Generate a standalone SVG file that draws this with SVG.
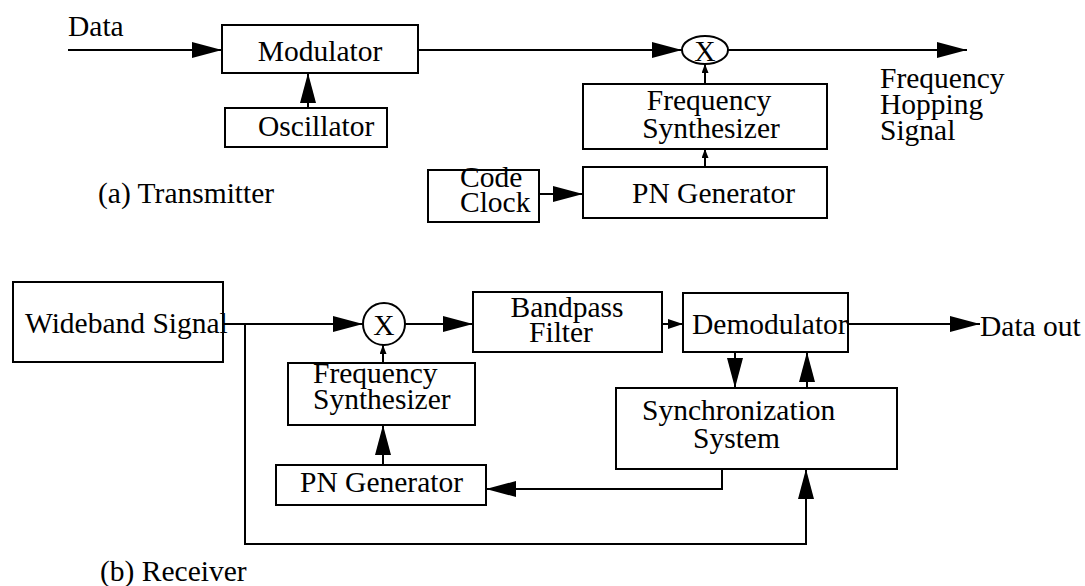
<svg xmlns="http://www.w3.org/2000/svg" width="1085" height="586" viewBox="0 0 1085 586">
  <style>
    .box { fill: #fff; stroke: #000; stroke-width: 2; }
    .mix { fill: #fff; stroke: #000; stroke-width: 2; }
    .wire { fill: none; stroke: #000; stroke-width: 2; }
    text { font-family: "Liberation Serif", "Times New Roman", serif; font-size: 29.5px; fill: #000; }
    .c { text-anchor: middle; }
  </style>
  <defs>
    <marker id="big" markerUnits="userSpaceOnUse" markerWidth="30" markerHeight="16" refX="30" refY="8" orient="auto">
      <path d="M0,0 L30,8 L0,16 Z" fill="#000"/>
    </marker>
    <marker id="mid" markerUnits="userSpaceOnUse" markerWidth="15" markerHeight="10" refX="15" refY="5" orient="auto">
      <path d="M0,0 L15,5 L0,10 Z" fill="#000"/>
    </marker>
    <marker id="small" markerUnits="userSpaceOnUse" markerWidth="9" markerHeight="7" refX="9" refY="3.5" orient="auto">
      <path d="M0,0 L9,3.5 L0,7 Z" fill="#000"/>
    </marker>
  </defs>

  <!-- connectors -->
  <g id="connectors">
    <!-- transmitter -->
    <path class="wire" d="M68,50 H222" marker-end="url(#big)"/>
    <path class="wire" d="M308,108 V73" marker-end="url(#big)"/>
    <path class="wire" d="M418,50 H682" marker-end="url(#big)"/>
    <path class="wire" d="M728,50 H967" marker-end="url(#big)"/>
    <path class="wire" d="M705,84 V64" marker-end="url(#small)"/>
    <path class="wire" d="M705,167 V149" marker-end="url(#small)"/>
    <path class="wire" d="M539,194 H583" marker-end="url(#big)"/>
    <!-- receiver -->
    <path class="wire" d="M223,324 H363" marker-end="url(#big)"/>
    <path class="wire" d="M405,324 H473" marker-end="url(#big)"/>
    <path class="wire" d="M662,324 H683" marker-end="url(#mid)"/>
    <path class="wire" d="M848,324 H980" marker-end="url(#big)"/>
    <path class="wire" d="M735,352 V388" marker-end="url(#big)"/>
    <path class="wire" d="M807,388 V352" marker-end="url(#big)"/>
    <path class="wire" d="M383,363 V345" marker-end="url(#small)"/>
    <path class="wire" d="M383,465 V425" marker-end="url(#big)"/>
    <path class="wire" d="M722,469 V489 H486" marker-end="url(#big)"/>
    <path class="wire" d="M245,324 V544 H806 V469" marker-end="url(#big)"/>
  </g>

  <!-- transmitter -->
  <text x="68" y="36">Data</text>
  <g id="modulator">
    <rect class="box" x="222" y="25" width="196" height="48"/>
    <text x="320" y="61" class="c">Modulator</text>
  </g>
  <g id="oscillator">
    <rect class="box" x="225" y="108" width="162" height="39"/>
    <text x="258" y="136">Oscillator</text>
  </g>
  <g id="tx-mixer">
    <ellipse class="mix" cx="705" cy="50" rx="23" ry="14"/>
    <text x="705" y="61" class="c">X</text>
  </g>
  <g id="tx-synth">
    <rect class="box" x="583" y="84" width="244" height="65"/>
    <text x="709" y="110" class="c">Frequency</text>
    <text x="711" y="138" class="c">Synthesizer</text>
  </g>
  <g id="tx-pn">
    <rect class="box" x="583" y="167" width="244" height="51"/>
    <text x="632" y="203">PN Generator</text>
  </g>
  <g id="code-clock">
    <rect class="box" x="428" y="170" width="111" height="52"/>
    <text x="460" y="187">Code</text>
    <text x="460" y="212">Clock</text>
  </g>
  <g id="fh-output">
    <text x="880" y="88">Frequency</text>
    <text x="880" y="114">Hopping</text>
    <text x="880" y="140">Signal</text>
  </g>
  <text x="98" y="203">(a) Transmitter</text>

  <!-- receiver -->
  <g id="wideband">
    <rect class="box" x="13" y="282" width="210" height="80"/>
    <text x="25" y="333">Wideband Signal</text>
  </g>
  <g id="rx-mixer">
    <circle class="mix" cx="384" cy="324" r="21"/>
    <text x="384" y="335" class="c">X</text>
  </g>
  <g id="bandpass">
    <rect class="box" x="473" y="292" width="189" height="60"/>
    <text x="567" y="317" class="c">Bandpass</text>
    <text x="561" y="342" class="c">Filter</text>
  </g>
  <g id="demodulator">
    <rect class="box" x="683" y="293" width="165" height="59"/>
    <text x="692" y="334">Demodulator</text>
  </g>
  <text x="980" y="336">Data out</text>
  <g id="sync">
    <rect class="box" x="616" y="388" width="281" height="81"/>
    <text x="642" y="420">Synchronization</text>
    <text x="693" y="448">System</text>
  </g>
  <g id="rx-synth">
    <rect class="box" x="288" y="363" width="187" height="62"/>
    <text x="313" y="383">Frequency</text>
    <text x="313" y="409">Synthesizer</text>
  </g>
  <g id="rx-pn">
    <rect class="box" x="276" y="465" width="210" height="40"/>
    <text x="300" y="492">PN Generator</text>
  </g>
  <text x="100" y="581">(b) Receiver</text>
</svg>
